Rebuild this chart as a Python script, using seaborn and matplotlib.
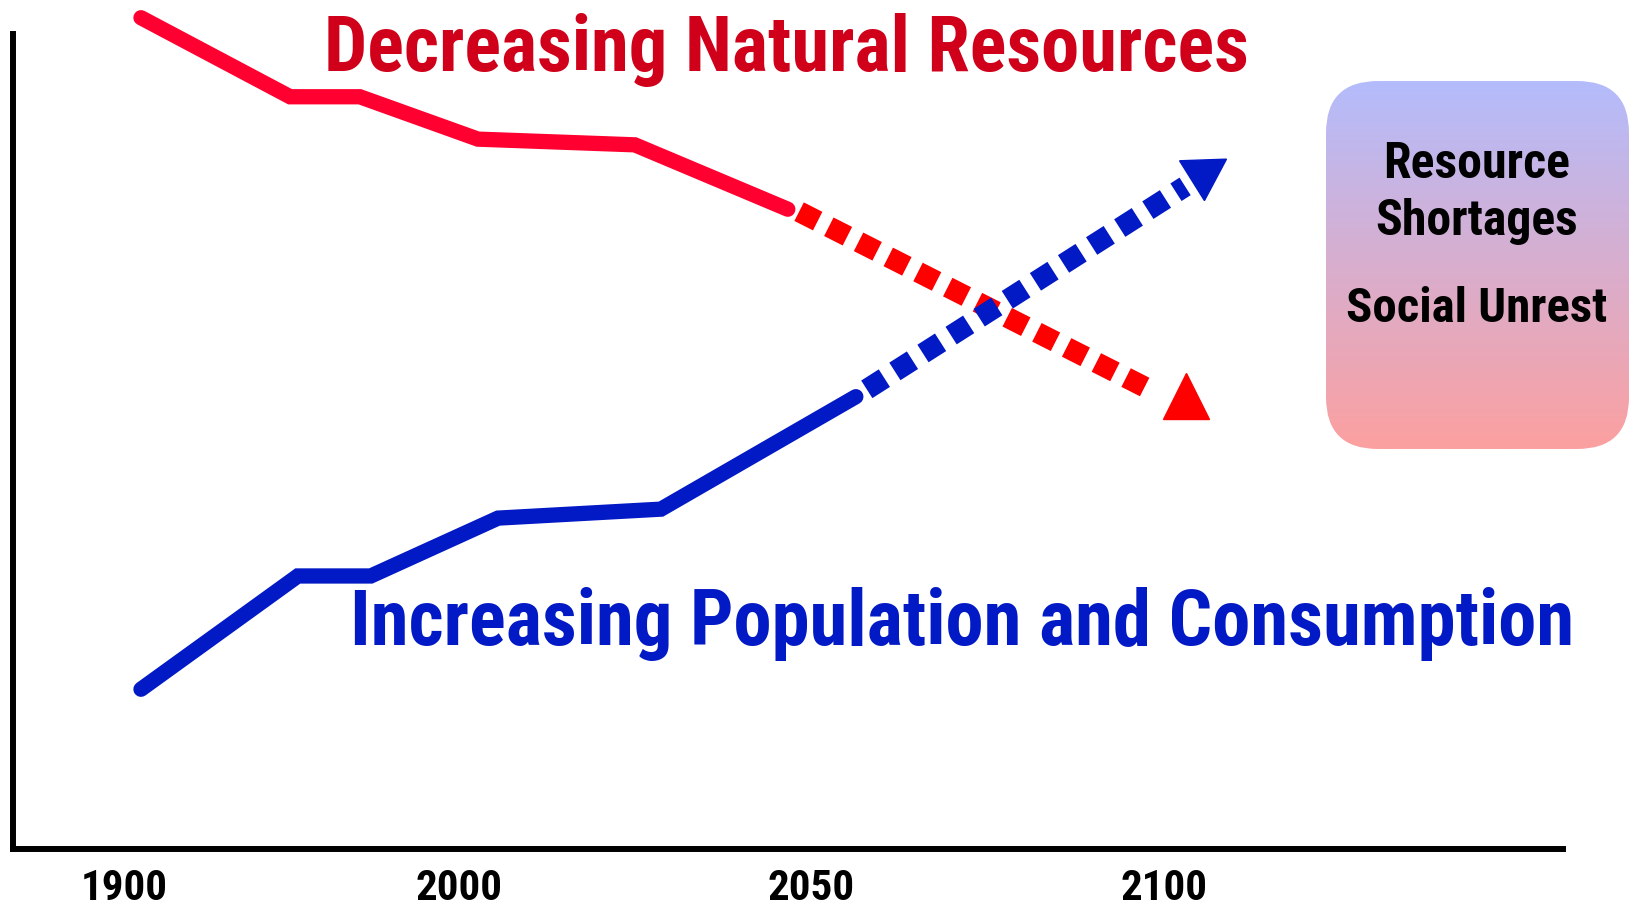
import numpy as np
import pandas as pd
import seaborn as sns
import matplotlib.pyplot as plt
from matplotlib import font_manager as fm
from matplotlib.patches import FancyBboxPatch
from matplotlib.colors import LinearSegmentedColormap

# Data (schematic timeline units, 2000 = 1, 2050 = 2, 2100 = 3)
tick_pos = [0.05, 1.0, 2.0, 3.0]
tick_labels = ["1900", "2000", "2050", "2100"]

red_x = [0.098, 0.521, 0.719, 1.054, 1.499, 1.933]
red_y = [102.0, 92.3, 92.3, 87.1, 86.4, 78.5]
red_proj_x = [1.965, 2.972]
red_proj_y = [78.2, 56.1]
red_head = (3.062, 55.6)

blue_x = [0.098, 0.543, 0.750, 1.111, 1.573, 2.126]
blue_y = [19.6, 33.5, 33.5, 40.6, 41.7, 55.5]
blue_proj_x = [2.157, 3.060]
blue_proj_y = [56.4, 81.3]
blue_head = (3.110, 82.9)

sns.set_style("white")
names = {f.name for f in fm.fontManager.ttflist}
font = next((n for n in ["Liberation Sans Narrow", "Roboto Condensed", "Liberation Sans", "DejaVu Sans"]
             if n in names), "DejaVu Sans")
plt.rcParams["font.family"] = [font, "DejaVu Sans"]
plt.rcParams["font.weight"] = "bold"
plt.rcParams["text.color"] = "black"
plt.rcParams["xtick.color"] = "black"

W, H = 1637, 916
fig = plt.figure(figsize=(W / 100, H / 100), dpi=100)
ax = fig.add_axes([13 / W, (H - 849) / H, (1563 - 13) / W, (849 - 34) / H])
ax.set_xlim(-0.265, 4.132)
ax.set_ylim(0, 100)

RED = "#FF0030"
BLUE = "#0219C6"

df_red = pd.DataFrame({"x": red_x, "y": red_y})
df_blue = pd.DataFrame({"x": blue_x, "y": blue_y})
sns.lineplot(data=df_red, x="x", y="y", ax=ax, color=RED, linewidth=11, estimator=None,
             solid_capstyle="round", solid_joinstyle="miter", clip_on=False)
sns.lineplot(data=df_blue, x="x", y="y", ax=ax, color=BLUE, linewidth=11, estimator=None,
             solid_capstyle="round", solid_joinstyle="miter", clip_on=False)

sns.lineplot(x=red_proj_x, y=red_proj_y, ax=ax, color="#FF0000", linewidth=15, estimator=None,
             linestyle=(0, (1, 0.6)), dash_capstyle="butt", clip_on=False)
sns.lineplot(x=blue_proj_x, y=blue_proj_y, ax=ax, color=BLUE, linewidth=15, estimator=None,
             linestyle=(0, (1, 0.6)), dash_capstyle="butt", clip_on=False)

ax.plot([red_head[0]], [red_head[1]], marker="^", markersize=33, color="#FF0000",
        linestyle="none", clip_on=False)
ax.plot([blue_head[0]], [blue_head[1]], marker=(3, 0, -58), markersize=39, color=BLUE,
        linestyle="none", clip_on=False)

for side in ["top", "right"]:
    ax.spines[side].set_visible(False)
for side in ["left", "bottom"]:
    ax.spines[side].set_linewidth(4.3)
    ax.spines[side].set_color("black")
ax.set_yticks([])
ax.set_xticks(tick_pos, tick_labels)
ax.tick_params(axis="x", length=0, pad=14, labelsize=31, labelcolor="black")
for lab in ax.get_xticklabels():
    lab.set_fontweight("bold")
ax.set_xlabel("")
ax.set_ylabel("")

# overlay in pixel space for texts and the box
ov = fig.add_axes([0, 0, 1, 1], zorder=5)
ov.patch.set_alpha(0)
ov.axis("off")

box = FancyBboxPatch((1326, 81), 303, 368, boxstyle="round,pad=0,rounding_size=52",
                     facecolor="none", edgecolor="none", transform=ov.transData)
ov.add_patch(box)
cmap = LinearSegmentedColormap.from_list("g", ["#B4BCFC", "#FCA0A0"])
grad = np.linspace(0, 1, 256).reshape(-1, 1)
im = ov.imshow(grad, cmap=cmap, extent=(1326, 1629, 449, 81), aspect="auto", origin="upper")
im.set_clip_path(box)
ov.set_xlim(0, W)
ov.set_ylim(H, 0)

t1 = ov.text(324, 71, "Decreasing Natural Resources", color="#D0001A", fontsize=50,
             fontweight="bold", ha="left", va="baseline")
t2 = ov.text(350, 645, "Increasing Population and Consumption", color=BLUE, fontsize=50,
             fontweight="bold", ha="left", va="baseline")
t3 = ov.text(1477, 178, "Resource", color="black", fontsize=30, fontweight="bold",
             ha="center", va="baseline")
t4 = ov.text(1477, 235, "Shortages", color="black", fontsize=30, fontweight="bold",
             ha="center", va="baseline")
t5 = ov.text(1477, 322, "Social Unrest", color="black", fontsize=30, fontweight="bold",
             ha="center", va="baseline")

fig.canvas.draw()
for t, target in [(t1, 926), (t2, 1226), (t3, 187), (t4, 203), (t5, 261)]:
    w = t.get_window_extent().width
    t.set_fontsize(t.get_fontsize() * target / w)

fig.savefig("out.png", dpi=100)
